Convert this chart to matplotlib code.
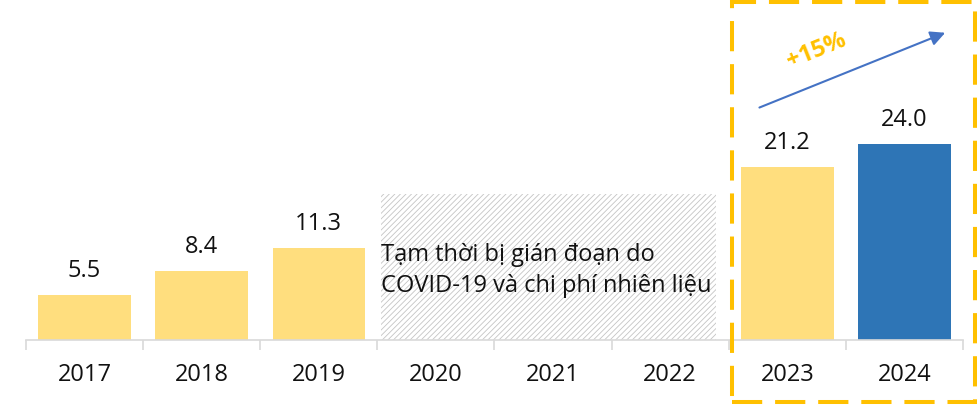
import matplotlib.pyplot as plt
from matplotlib.patches import Rectangle

years = ["2017", "2018", "2019", "2020", "2021", "2022", "2023", "2024"]
values = [5.5, 8.4, 11.3, None, None, None, 21.2, 24.0]
bar_colors = ["#FFDE7E", "#FFDE7E", "#FFDE7E", None, None, None, "#FFDE7E", "#2E75B6"]
gap_note = "Tạm thời bị gián đoạn do\nCOVID-19 và chi phí nhiên liệu"
growth_label = "+15%"

plt.rcParams["font.family"] = ["Open Sans", "DejaVu Sans"]
plt.rcParams["hatch.linewidth"] = 0.6

fig = plt.figure(figsize=(9.78, 4.06), dpi=100)
ax = fig.add_axes([26 / 978, 65 / 406, 937 / 978, 341 / 406])

x = list(range(len(years)))
for i, v in enumerate(values):
    if v is None:
        continue
    ax.bar(i, v, width=0.79, color=bar_colors[i], zorder=2)
    ax.text(i, v + 1.6, f"{v:.1f}", ha="center", va="bottom", fontsize=17, color="#111111")

# hatched block for the interrupted years
ax.add_patch(Rectangle((2.53, 0), 2.86, 17.9, facecolor="white", edgecolor="#C4C4C4",
                       hatch="//////", linewidth=0, zorder=1))
ax.text(2.53, 8.6, gap_note, ha="left", va="center", fontsize=17,
        color="#111111", linespacing=1.4, zorder=3)

ax.set_xlim(-0.5, len(years) - 0.5)
ax.set_ylim(0, 41.7)
for s in ["top", "right", "left"]:
    ax.spines[s].set_visible(False)
ax.spines["bottom"].set_color("#D9D9D9")
ax.spines["bottom"].set_linewidth(1.2)
ax.set_yticks([])
ax.set_xticks(x)
ax.set_xticklabels(years, fontsize=17, color="#111111")
ax.tick_params(axis="x", which="major", length=0, pad=16)
ax.set_xticks([i - 0.5 for i in range(len(years) + 1)], minor=True)
ax.tick_params(axis="x", which="minor", length=7, color="#D9D9D9", width=1.2)

# growth arrow
ax.annotate("", xy=(7.37, 37.7), xytext=(5.74, 28.3),
            arrowprops=dict(arrowstyle="-|>", color="#4472C4", lw=1.5, mutation_scale=22))
ax.text(6.25, 35.5, growth_label, ha="center", va="center", rotation=22,
        fontsize=17, fontweight="bold", color="#FFC000")

# dashed highlight box
fig.patches.append(Rectangle((732 / 978, 3 / 406), 243 / 978, 400 / 406,
                             transform=fig.transFigure, fill=False, edgecolor="#FFC000",
                             linewidth=2.9, linestyle=(0, (7.5, 3.2))))

fig.savefig("out.png", dpi=100)
